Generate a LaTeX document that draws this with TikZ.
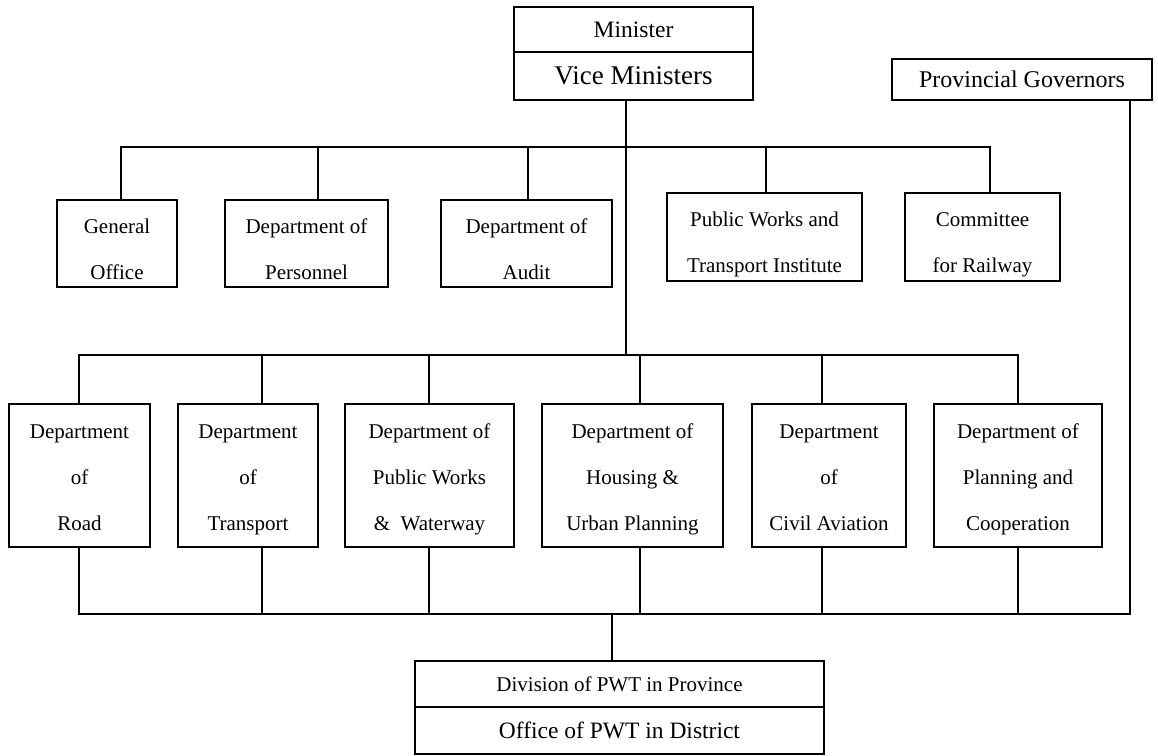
\documentclass[tikz,border=0pt]{standalone}
\usepackage{fontspec}
\setmainfont{Liberation Serif}
\usepackage{tikz}

\begin{document}
\begin{tikzpicture}
		[x=1pt,y=-1pt,
		unit/.style={rectangle,draw,line width=1.5pt,inner sep=0pt,outer sep=0pt,
align=center,font=\fontsize{21}{46}\selectfont},
		topunit/.style={unit,minimum height=87pt,text height=71pt,text depth=0pt},
		lowunit/.style={unit,minimum height=143pt,text height=109pt,text depth=0pt},
		linkline/.style={line width=1.5pt}]
		\useasboundingbox (0,0) rectangle (1158,755);
		\node at (633.5, 29.5) (minister) [unit,minimum width=239pt,minimum height=45pt,font=\fontsize{23.5}{28}\selectfont] {Minister};
		\node at (633.5, 76) (vice) [unit,minimum width=239pt,minimum height=48pt,font=\fontsize{27}{32}\selectfont] {Vice Ministers};
		\node at (1022, 79.5) (governors) [unit,minimum width=260pt,minimum height=41pt,font=\fontsize{24}{28}\selectfont] {Provincial Governors};
		% staff units
		\node at (117, 243.5) (genoffice) [topunit,minimum width=120pt] {General\\Office};
		\node at (306.5, 243.5) (personnel) [topunit,minimum width=163pt] {Department of\\Personnel};
		\node at (526.5, 243.5) (audit) [topunit,minimum width=171pt] {Department of\\Audit};
		\node at (764.5, 237) (institute) [topunit,minimum width=195pt,minimum height=88pt] {Public Works and\\Transport Institute};
		\node at (982.5, 237) (railway) [topunit,minimum width=155pt,minimum height=88pt] {Committee\\for Railway};
		% line departments
		\node at (79.5, 475.5) (road) [lowunit,minimum width=141pt] {Department\\of\\Road};
		\node at (248, 475.5) (transport) [lowunit,minimum width=140pt] {Department\\of\\Transport};
		\node at (429.5, 475.5) (waterway) [lowunit,minimum width=169pt] {Department of\\Public Works\\\&\ \ Waterway};
		\node at (632.5, 475.5) (housing) [lowunit,minimum width=181pt] {Department of\\Housing \&\\Urban Planning};
		\node at (829, 475.5) (aviation) [lowunit,minimum width=154pt] {Department\\of\\Civil Aviation};
		\node at (1018, 475.5) (planning) [lowunit,minimum width=168pt] {Department of\\Planning and\\Cooperation};
		% provincial level
		\node at (619.5, 684) (division) [unit,minimum width=409pt,minimum height=46pt,font=\fontsize{21}{26}\selectfont] {Division of PWT in Province};
		\node at (619.5, 730.5) (office) [unit,minimum width=409pt,minimum height=47pt,font=\fontsize{23.5}{28}\selectfont] {Office of PWT in District};
		\coordinate (upbus) at (626, 147);
		\coordinate (midbus) at (626, 355);
		\coordinate (lowbus) at (612, 614);
		\draw [linkline] ([xshift=-7.5pt]vice.south) -- (midbus);
		\draw [linkline] ([xshift=4pt]genoffice.north) |- ([xshift=7.5pt]railway.north |- upbus) -- ([xshift=7.5pt]railway.north);
		\foreach \n/\dx in {personnel/11.5, audit/1.5, institute/1.5}
			\draw [linkline] ([xshift=\dx pt]\n.north) -- ([xshift=\dx pt]\n.north |- upbus);
		\draw [linkline] ([xshift=-0.5pt]road.north) |- (planning.north |- midbus) -- (planning.north);
		\foreach \n/\dx in {transport/14, waterway/-0.5, housing/7.5, aviation/-7}
			\draw [linkline] ([xshift=\dx pt]\n.north) -- ([xshift=\dx pt]\n.north |- midbus);
		\draw [linkline] ([xshift=-0.5pt]road.south) |- ([xshift=108pt]governors.south |- lowbus) -- ([xshift=108pt]governors.south);
		\foreach \n/\dx in {transport/14, waterway/-0.5, housing/7.5, aviation/-7, planning/0}
			\draw [linkline] ([xshift=\dx pt]\n.south) -- ([xshift=\dx pt]\n.south |- lowbus);
		\draw [linkline] (lowbus) -- ([xshift=-7.5pt]division.north);
	\end{tikzpicture}
\end{document}
